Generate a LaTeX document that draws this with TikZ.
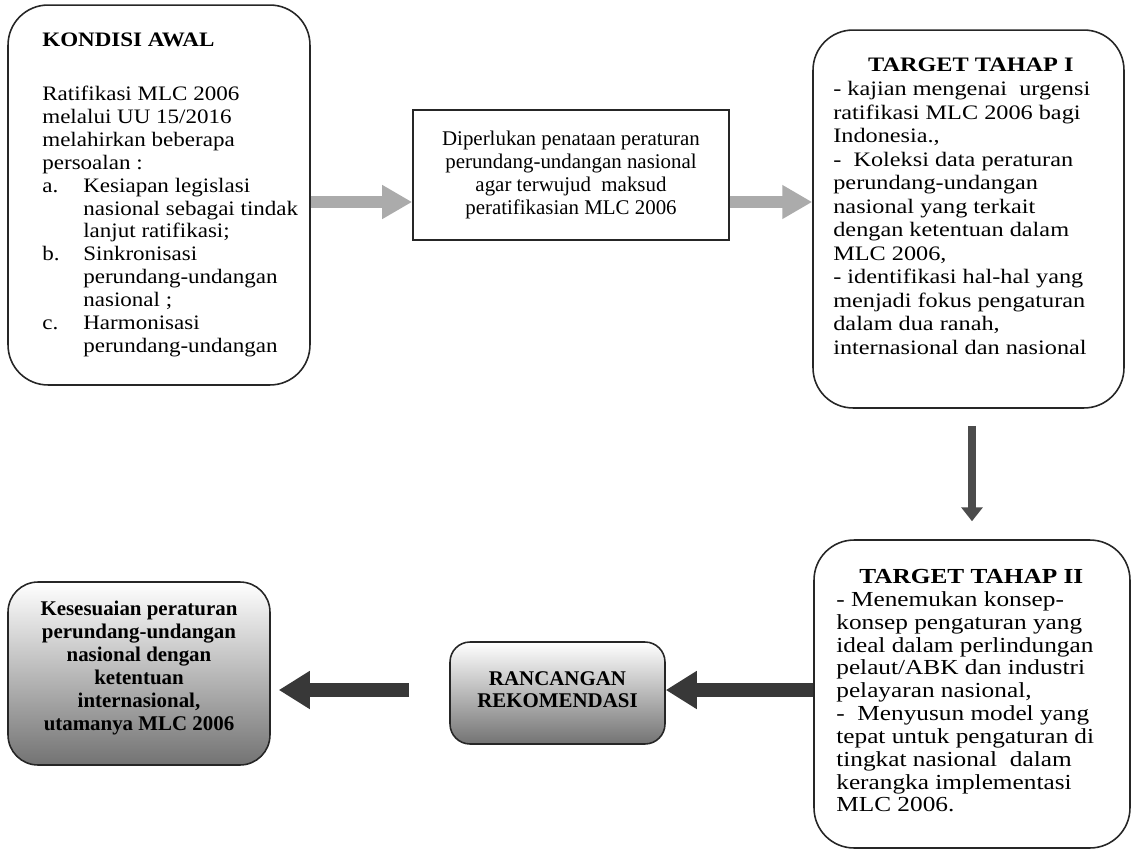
\documentclass[tikz,border=0pt]{standalone}
\usepackage{fontspec}
\setmainfont{Liberation Serif}[FakeStretch=1.12]
\newfontfamily\biasa{Liberation Serif}
\newfontfamily\lebar{Liberation Serif}[FakeStretch=1.18]
\usetikzlibrary{arrows.meta}

\begin{document}
\begin{tikzpicture}[x=0.02cm, y=-0.02cm,
  kotak/.style={draw=black!85, line width=0.9pt, rounded corners=0.8cm, inner sep=0pt},
  isi/.style={inner sep=0pt, align=left},
  panahabu/.style={draw=black!33, line width=0.24cm, -{Triangle[length=0.6cm,width=0.64cm]}},
  panahgelap/.style={draw=black!78, line width=0.28cm, -{Triangle[length=0.62cm,width=0.72cm]}},
  arsir/.style={top color=white, bottom color=black!55, draw=black!85, line width=0.9pt, inner sep=0pt}]

\useasboundingbox (0,0) rectangle (1134,853);
\coordinate (baris1) at (0,202);
\coordinate (baris2) at (0,690);

% kotak atas
\node[kotak, minimum width=6.04cm, minimum height=7.6cm] (awal) at (159,195) {};
\node[isi, anchor=north west, font=\fontsize{11.7pt}{13pt}\selectfont] (awalisi) at (42,33)
  {\textbf{KONDISI AWAL}\\[0.62cm]
   Ratifikasi MLC 2006\\
   melalui UU 15/2016\\
   melahirkan beberapa\\
   persoalan :\\
   \makebox[0.82cm][l]{a.}Kesiapan legislasi\\
   \hspace*{0.82cm}nasional sebagai tindak\\
   \hspace*{0.82cm}lanjut ratifikasi;\\
   \makebox[0.82cm][l]{b.}Sinkronisasi\\
   \hspace*{0.82cm}perundang-undangan\\
   \hspace*{0.82cm}nasional ;\\
   \makebox[0.82cm][l]{c.}Harmonisasi\\
   \hspace*{0.82cm}perundang-undangan};

\node[draw=black!85, line width=1pt, minimum width=6.32cm, minimum height=2.6cm,
  align=center, inner sep=0pt, font=\biasa\fontsize{11.9pt}{13pt}\selectfont] (penataan) at (571,175)
  {Diperlukan penataan peraturan\\
   perundang-undangan nasional\\
   agar terwujud\ \ maksud\\
   peratifikasian MLC 2006};

\node[kotak, minimum width=6.22cm, minimum height=7.56cm] (tahap1) at (968.5,219) {};
\node[isi, anchor=north west, font=\lebar\fontsize{11.7pt}{13.4pt}\selectfont] (tahap1isi) at (833,58)
  {\makebox[5.5cm]{\textbf{TARGET TAHAP I}}\\
   - kajian mengenai\ \ urgensi\\
   ratifikasi MLC 2006 bagi\\
   Indonesia.,\\
   -\ \ Koleksi data peraturan\\
   perundang-undangan\\
   nasional yang terkait\\
   dengan ketentuan dalam\\
   MLC 2006,\\
   - identifikasi hal-hal yang\\
   menjadi fokus pengaturan\\
   dalam dua ranah,\\
   internasional dan nasional};

\draw[panahabu] (awal.east |- baris1) -- (penataan.west |- baris1);
\draw[panahabu] (penataan.east |- baris1) -- (tahap1.west |- baris1);

% kotak bawah
\node[kotak, minimum width=6.32cm, minimum height=6.16cm] (tahap2) at (972,694) {};
\node[isi, anchor=north west, font=\lebar\fontsize{12.2pt}{13pt}\selectfont] (tahap2isi) at (836,569)
  {\makebox[5.4cm]{\textbf{TARGET TAHAP II}}\\
   - Menemukan konsep-\\
   konsep pengaturan yang\\
   ideal dalam perlindungan\\
   pelaut/ABK dan industri\\
   pelayaran nasional,\\
   -\ \ Menyusun model yang\\
   tepat untuk pengaturan di\\
   tingkat nasional\ \ dalam\\
   kerangka implementasi\\
   MLC 2006.};

\draw[draw=black!70, line width=0.16cm, -{Triangle[length=0.28cm,width=0.42cm]},
  shorten <=0.34cm, shorten >=0.36cm] (tahap1.south -| 972,0) -- (tahap2.north -| 972,0);

\node[arsir, rounded corners=0.4cm, minimum width=4.3cm, minimum height=2.04cm,
  align=center, font=\biasa\bfseries\fontsize{11.9pt}{12.2pt}\selectfont] (rancangan) at (557.5,693)
  {RANCANGAN\\ REKOMENDASI\\[-0.3cm]};

\node[arsir, rounded corners=0.6cm, minimum width=5.24cm, minimum height=3.66cm,
  align=center, font=\biasa\bfseries\fontsize{11.9pt}{13pt}\selectfont] (hasil) at (139,673.5)
  {Kesesuaian peraturan\\
   perundang-undangan\\
   nasional dengan\\
   ketentuan\\
   internasional,\\
   utamanya MLC 2006\\[-0.15cm]};

\draw[panahgelap] (tahap2.west |- baris2) -- (rancangan.east |- baris2);
\draw[panahgelap, shorten <=0.8cm, shorten >=0.16cm] (rancangan.west |- baris2) -- (hasil.east |- baris2);

\end{tikzpicture}
\end{document}
